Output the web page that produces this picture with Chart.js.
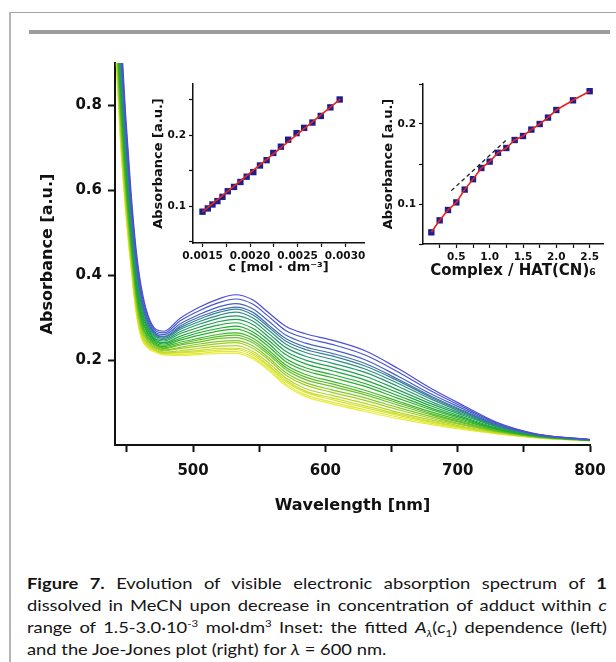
<!DOCTYPE html>
<html>
<head>
<meta charset="utf-8">
<script src="https://cdn.jsdelivr.net/npm/chart.js@4.4.1/dist/chart.umd.min.js"></script>
<style>
  html, body { margin: 0; padding: 0; background: #fff; }
  #page { position: relative; width: 616px; height: 662px; overflow: hidden; background: #fff; }
  .frameTop { position: absolute; left: 9px; top: 12px; width: 607px; height: 1px; background: #a4a4a4; }
  .frameLeft { position: absolute; left: 9px; top: 12px; width: 2px; height: 650px; background: #b4b4b4; }
  .bar { position: absolute; left: 29px; top: 30px; width: 581px; height: 4px; background: #9c9c9c; }
  canvas { position: absolute; }
  #caption { position: absolute; left: 27px; top: 572px; width: 506px; font-family: Lato, sans-serif; font-size: 16px; line-height: 22px; color: #151515;
    transform: scaleX(1.146); transform-origin: 0 0; }
  .ln { text-align: justify; text-align-last: justify; }
  sup, sub { font-size: 10px; line-height: 0; }
</style>
</head>
<body>
<div id="page">
  <div class="frameTop"></div>
  <div class="frameLeft"></div>
  <div class="bar"></div>
  <canvas id="mainChart" width="616" height="530" style="left:0;top:0;width:616px;height:530px"></canvas>
  <canvas id="insetLeft" width="240" height="215" style="left:135px;top:70px;width:240px;height:215px"></canvas>
  <canvas id="insetRight" width="246" height="215" style="left:370px;top:70px;width:246px;height:215px"></canvas>
  <div id="caption">
    <div class="ln"><b>Figure 7.</b> Evolution of visible electronic absorption spectrum of <b>1</b></div>
    <div class="ln">dissolved in MeCN upon decrease in concentration of adduct within <i>c</i></div>
    <div class="ln">range of 1.5-3.0·10<sup>-3</sup> mol·dm<sup>3</sup> Inset: the fitted <i>A</i><sub><i>λ</i></sub>(<i>c</i><sub>1</sub>) dependence (left)</div>
    <div>and the Joe-Jones plot (right) for <i>λ</i> = 600 nm.</div>
  </div>
</div>
<script>
// main spectra: wavelength grid and one absorbance array per dilution step (top blue -> bottom yellow)
const wavelengths = [441, 445, 449, 453, 457, 461, 466, 472, 478, 490, 505, 520, 532, 545, 557, 570, 585, 605, 630, 655, 680, 705, 730, 760, 800];

const spec01 = [1.250, 1.000, 0.780, 0.600, 0.460, 0.370, 0.305, 0.272, 0.268, 0.298, 0.325, 0.345, 0.354, 0.342, 0.312, 0.280, 0.262, 0.247, 0.222, 0.180, 0.133, 0.092, 0.053, 0.026, 0.013];
const spec02 = [1.230, 0.980, 0.764, 0.587, 0.450, 0.362, 0.300, 0.268, 0.264, 0.292, 0.317, 0.336, 0.344, 0.332, 0.303, 0.270, 0.252, 0.237, 0.212, 0.172, 0.127, 0.088, 0.051, 0.025, 0.013];
const spec03 = [1.207, 0.958, 0.746, 0.573, 0.438, 0.352, 0.294, 0.264, 0.260, 0.285, 0.308, 0.326, 0.333, 0.321, 0.292, 0.259, 0.240, 0.225, 0.201, 0.162, 0.120, 0.084, 0.049, 0.025, 0.013];
const spec04 = [1.189, 0.941, 0.732, 0.562, 0.429, 0.345, 0.289, 0.261, 0.256, 0.280, 0.302, 0.318, 0.325, 0.313, 0.283, 0.251, 0.231, 0.216, 0.192, 0.155, 0.115, 0.080, 0.047, 0.024, 0.012];
const spec05 = [1.178, 0.930, 0.723, 0.555, 0.423, 0.340, 0.286, 0.259, 0.254, 0.276, 0.297, 0.313, 0.320, 0.307, 0.278, 0.245, 0.225, 0.210, 0.186, 0.151, 0.112, 0.078, 0.046, 0.024, 0.012];
const spec06 = [1.163, 0.916, 0.711, 0.546, 0.415, 0.334, 0.282, 0.256, 0.251, 0.272, 0.291, 0.306, 0.313, 0.300, 0.271, 0.238, 0.218, 0.202, 0.179, 0.145, 0.108, 0.075, 0.045, 0.023, 0.012];
const spec07 = [1.146, 0.899, 0.697, 0.535, 0.406, 0.327, 0.277, 0.253, 0.248, 0.267, 0.285, 0.299, 0.304, 0.292, 0.263, 0.230, 0.209, 0.193, 0.171, 0.138, 0.102, 0.072, 0.043, 0.023, 0.012];
const spec08 = [1.128, 0.882, 0.683, 0.524, 0.397, 0.320, 0.273, 0.249, 0.245, 0.262, 0.278, 0.291, 0.296, 0.284, 0.255, 0.221, 0.200, 0.184, 0.162, 0.130, 0.097, 0.069, 0.042, 0.022, 0.012];
const spec09 = [1.111, 0.866, 0.670, 0.514, 0.388, 0.312, 0.268, 0.246, 0.241, 0.256, 0.271, 0.283, 0.288, 0.275, 0.247, 0.213, 0.191, 0.175, 0.153, 0.123, 0.092, 0.065, 0.040, 0.022, 0.012];
const spec10 = [1.093, 0.849, 0.656, 0.503, 0.379, 0.305, 0.263, 0.243, 0.238, 0.251, 0.265, 0.275, 0.280, 0.267, 0.239, 0.204, 0.182, 0.166, 0.145, 0.116, 0.087, 0.062, 0.038, 0.021, 0.011];
const spec11 = [1.079, 0.835, 0.644, 0.494, 0.372, 0.299, 0.260, 0.240, 0.235, 0.247, 0.259, 0.269, 0.273, 0.260, 0.232, 0.197, 0.175, 0.159, 0.138, 0.110, 0.083, 0.059, 0.037, 0.021, 0.011];
const spec12 = [1.062, 0.818, 0.631, 0.483, 0.363, 0.292, 0.255, 0.237, 0.232, 0.242, 0.252, 0.261, 0.264, 0.252, 0.224, 0.189, 0.166, 0.150, 0.129, 0.103, 0.078, 0.056, 0.036, 0.020, 0.011];
const spec13 = [1.050, 0.807, 0.621, 0.476, 0.357, 0.287, 0.252, 0.235, 0.229, 0.238, 0.248, 0.256, 0.259, 0.246, 0.218, 0.183, 0.160, 0.144, 0.123, 0.099, 0.074, 0.053, 0.034, 0.020, 0.011];
const spec14 = [1.038, 0.796, 0.612, 0.469, 0.351, 0.282, 0.249, 0.233, 0.227, 0.235, 0.243, 0.251, 0.253, 0.241, 0.213, 0.178, 0.154, 0.138, 0.118, 0.094, 0.071, 0.051, 0.033, 0.019, 0.011];
const spec15 = [1.024, 0.782, 0.601, 0.460, 0.343, 0.276, 0.245, 0.230, 0.224, 0.230, 0.238, 0.244, 0.246, 0.234, 0.206, 0.171, 0.147, 0.130, 0.111, 0.088, 0.067, 0.048, 0.032, 0.019, 0.011];
const spec16 = [1.012, 0.770, 0.591, 0.452, 0.337, 0.272, 0.242, 0.228, 0.222, 0.227, 0.233, 0.239, 0.241, 0.228, 0.201, 0.165, 0.141, 0.124, 0.105, 0.083, 0.063, 0.046, 0.031, 0.019, 0.011];
const spec17 = [0.998, 0.756, 0.580, 0.443, 0.330, 0.266, 0.238, 0.225, 0.219, 0.222, 0.228, 0.233, 0.234, 0.221, 0.194, 0.158, 0.133, 0.117, 0.098, 0.077, 0.059, 0.043, 0.030, 0.018, 0.010];
const spec18 = [0.986, 0.745, 0.571, 0.436, 0.324, 0.261, 0.235, 0.223, 0.217, 0.219, 0.223, 0.228, 0.228, 0.216, 0.188, 0.153, 0.127, 0.111, 0.092, 0.073, 0.056, 0.041, 0.028, 0.018, 0.010];
const spec19 = [0.979, 0.738, 0.565, 0.432, 0.320, 0.258, 0.233, 0.222, 0.216, 0.217, 0.220, 0.224, 0.225, 0.212, 0.185, 0.149, 0.124, 0.107, 0.088, 0.070, 0.054, 0.040, 0.028, 0.018, 0.010];
const spec20 = [0.969, 0.728, 0.557, 0.425, 0.315, 0.254, 0.230, 0.220, 0.214, 0.214, 0.216, 0.220, 0.220, 0.207, 0.180, 0.144, 0.118, 0.101, 0.083, 0.066, 0.051, 0.038, 0.027, 0.017, 0.010];
const spec21 = [0.960, 0.720, 0.550, 0.420, 0.310, 0.250, 0.228, 0.218, 0.212, 0.211, 0.213, 0.216, 0.216, 0.203, 0.176, 0.140, 0.114, 0.097, 0.079, 0.062, 0.048, 0.036, 0.026, 0.017, 0.010];

const mainXTicks = [450, 500, 550, 600, 650, 700, 750, 800];
const mainXLabels = ['', '500', '', '600', '', '700', '', '800'];
const mainYTicks = [0.2, 0.4, 0.6, 0.8];
const mainYLabels = ['0.2', '0.4', '0.6', '0.8'];

// left inset: A(600 nm) vs concentration
const concC = [0.0015, 0.001556, 0.001605, 0.001657, 0.00171, 0.001766, 0.001832, 0.001899, 0.001965, 0.002035, 0.002105, 0.002175, 0.002245, 0.002325, 0.002402, 0.00249, 0.00257, 0.002657, 0.002745, 0.002846, 0.002944];
const absC = [0.0921, 0.0967, 0.1023, 0.107, 0.113, 0.1209, 0.127, 0.134, 0.1414, 0.1479, 0.1572, 0.1647, 0.1749, 0.1837, 0.1935, 0.2028, 0.2102, 0.2177, 0.227, 0.2391, 0.2502];
const fitC = [0.0015, 0.00295];
const fitA = [0.0918, 0.2506];
const leftXTicks = [0.0015, 0.00175, 0.002, 0.00225, 0.0025, 0.00275, 0.003];
const leftXLabels = ['0.0015', '', '0.0020', '', '0.0025', '', '0.0030'];

// right inset: Joe-Jones plot
const ratioR = [0.125, 0.25, 0.375, 0.5, 0.625, 0.75, 0.875, 1.0, 1.125, 1.25, 1.375, 1.5, 1.625, 1.75, 1.875, 2.0, 2.25, 2.5];
const absR = [0.0646, 0.0796, 0.0925, 0.102, 0.118, 0.131, 0.145, 0.153, 0.164, 0.170, 0.180, 0.185, 0.193, 0.200, 0.208, 0.2175, 0.2296, 0.241];
const tangentX = [0.425, 1.275];
const tangentY = [0.1167, 0.182];
const rightXTicks = [0.25, 0.5, 0.75, 1.0, 1.25, 1.5, 1.75, 2.0, 2.25, 2.5];
const rightXLabels = ['', '0.5', '', '1.0', '', '1.5', '', '2.0', '', '2.5'];

const insetYTicks = [0.05, 0.1, 0.15, 0.2, 0.25];
const insetYLabels = ['', '0.1', '', '0.2', ''];

const lineColors = ['#4b4fd8', '#4a55d0', '#4660c4', '#3f6fb0', '#37809a', '#2e8f7e', '#25996a', '#1fa052', '#1ea63f', '#22ab32', '#2eb12a',
  '#3fb628', '#55bc26', '#6cc225', '#84c824', '#9dcf25', '#b4d628', '#c8dd2c', '#d7e330', '#e2e835', '#ebec3c'];

const spectra = [spec01, spec02, spec03, spec04, spec05, spec06, spec07, spec08, spec09, spec10, spec11,
  spec12, spec13, spec14, spec15, spec16, spec17, spec18, spec19, spec20, spec21];

Chart.defaults.font.family = "'DejaVu Sans', sans-serif";
Chart.defaults.font.weight = 'bold';
Chart.defaults.color = '#111';

const ink = '#111';

function axis(opts) {
  // common look of every axis: black line, outward ticks, no grid
  return {
    type: 'linear',
    min: opts.min,
    max: opts.max,
    afterBuildTicks: s => { s.ticks = opts.ticks.map(v => ({ value: v })); },
    afterFit: s => { if (opts.width) s.width = opts.width; if (opts.height) s.height = opts.height; },
    grid: { drawOnChartArea: false, tickLength: opts.tickLen, tickWidth: opts.tickW, tickColor: ink },
    border: { color: ink, width: opts.borderW },
    ticks: {
      callback: (v, i) => opts.labels[i],
      padding: opts.pad,
      autoSkip: false,
      maxRotation: 0,
      color: ink,
      font: { size: opts.fontSize, weight: 'bold' }
    },
    title: {
      display: true,
      text: opts.title,
      color: ink,
      font: { size: opts.titleSize, weight: 'bold' },
      padding: opts.titlePad
    }
  };
}

new Chart(document.getElementById('mainChart'), {
  type: 'line',
  data: {
    datasets: spectra.map((s, i) => ({
      data: wavelengths.map((w, k) => ({ x: w, y: s[k] })),
      borderColor: lineColors[i],
      borderWidth: 1.2,
      pointRadius: 0,
      cubicInterpolationMode: 'monotone',
      fill: false
    }))
  },
  options: {
    responsive: false,
    animation: false,
    layout: { padding: { left: 0, top: 63, right: 26, bottom: 0 } },
    plugins: { legend: { display: false }, tooltip: { enabled: false } },
    scales: {
      x: axis({ min: 441, max: 800, ticks: mainXTicks, labels: mainXLabels, height: 85, tickLen: 7, tickW: 2, borderW: 2, pad: 10,
        fontSize: 15, title: 'Wavelength [nm]', titleSize: 16, titlePad: { top: 0, bottom: 15 } }),
      y: axis({ min: 0, max: 0.9, ticks: mainYTicks, labels: mainYLabels, width: 115, tickLen: 7, tickW: 2, borderW: 2, pad: 6,
        fontSize: 15, title: 'Absorbance [a.u.]', titleSize: 16, titlePad: { top: 38, bottom: 0 } })
    }
  }
});

new Chart(document.getElementById('insetLeft'), {
  type: 'scatter',
  data: {
    datasets: [
      {
        data: fitC.map((c, k) => ({ x: c, y: fitA[k] })),
        showLine: true,
        borderColor: '#e8231f',
        borderWidth: 1.6,
        pointRadius: 0
      },
      {
        data: concC.map((c, k) => ({ x: c, y: absC[k] })),
        pointStyle: 'rect',
        pointRadius: 4.5,
        backgroundColor: '#1b1f8e',
        borderWidth: 0
      }
    ]
  },
  options: {
    responsive: false,
    animation: false,
    layout: { padding: { left: 0, top: 14, right: 11, bottom: 0 } },
    plugins: { legend: { display: false }, tooltip: { enabled: false } },
    scales: {
      x: axis({ min: 0.0014, max: 0.0032, ticks: leftXTicks, labels: leftXLabels, height: 42, tickLen: 4, tickW: 1.2, borderW: 1.5, pad: 3,
        fontSize: 10.5, title: 'c [mol · dm⁻³]', titleSize: 13, titlePad: { top: 0, bottom: 10 } }),
      y: axis({ min: 0.048, max: 0.272, ticks: insetYTicks, labels: insetYLabels, width: 58, tickLen: 4, tickW: 1.2, borderW: 1.5, pad: 3,
        fontSize: 10.5, title: 'Absorbance [a.u.]', titleSize: 13, titlePad: { top: 16, bottom: 0 } })
    }
  }
});

new Chart(document.getElementById('insetRight'), {
  type: 'scatter',
  data: {
    datasets: [
      {
        data: ratioR.map((r, k) => ({ x: r, y: absR[k] })),
        showLine: true,
        borderColor: '#e8231f',
        borderWidth: 1.6,
        pointRadius: 0
      },
      {
        data: tangentX.map((r, k) => ({ x: r, y: tangentY[k] })),
        showLine: true,
        borderColor: '#222',
        borderWidth: 1.3,
        borderDash: [4, 3],
        pointRadius: 0
      },
      {
        data: ratioR.map((r, k) => ({ x: r, y: absR[k] })),
        pointStyle: 'rect',
        pointRadius: 4.5,
        backgroundColor: '#1b1f8e',
        borderWidth: 0
      }
    ]
  },
  options: {
    responsive: false,
    animation: false,
    layout: { padding: { left: 0, top: 14, right: 13, bottom: 0 } },
    plugins: { legend: { display: false }, tooltip: { enabled: false } },
    scales: {
      x: axis({ min: 0, max: 2.7, ticks: rightXTicks, labels: rightXLabels, height: 41, tickLen: 4, tickW: 1.2, borderW: 1.5, pad: 3,
        fontSize: 10.5, title: 'Complex / HAT(CN)₆', titleSize: 15, titlePad: { top: 0, bottom: 5 } }),
      y: axis({ min: 0.05, max: 0.25, ticks: insetYTicks, labels: insetYLabels, width: 53, tickLen: 4, tickW: 1.2, borderW: 1.5, pad: 3,
        fontSize: 10.5, title: 'Absorbance [a.u.]', titleSize: 13, titlePad: { top: 11, bottom: 0 } })
    }
  }
});
</script>
</body>
</html>
